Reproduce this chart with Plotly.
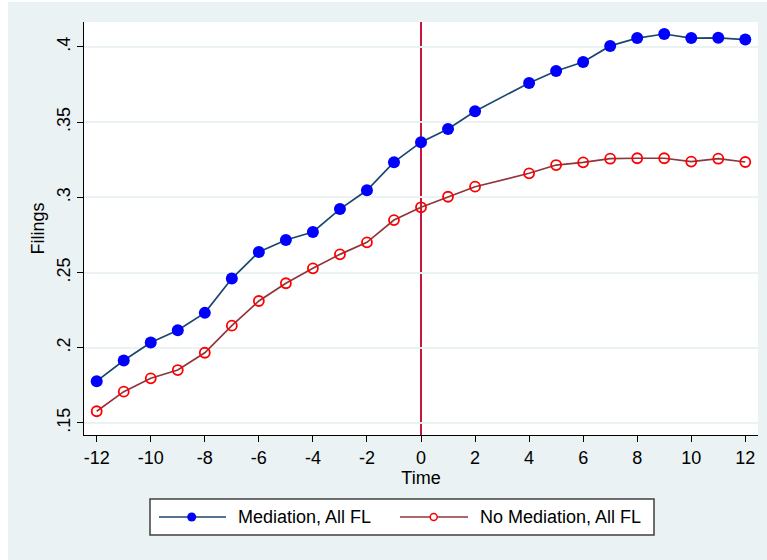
import plotly.graph_objects as go

# ---- data ----
time = [-12, -11, -10, -9, -8, -7, -6, -5, -4, -3, -2, -1, 0, 1, 2, 4, 5, 6, 7, 8, 9, 10, 11, 12]
mediation = [0.1778, 0.1915, 0.2035, 0.2116, 0.2232, 0.2460, 0.2637, 0.2717, 0.2770, 0.2922,
             0.3047, 0.3234, 0.3367, 0.3455, 0.3573, 0.3761, 0.3840, 0.3900, 0.4007, 0.4059,
             0.4086, 0.4059, 0.4061, 0.4049]
no_mediation = [0.1578, 0.1708, 0.1797, 0.1852, 0.1967, 0.2147, 0.2311, 0.2429, 0.2528, 0.2621,
                0.2701, 0.2849, 0.2934, 0.3004, 0.3071, 0.3160, 0.3215, 0.3233, 0.3257, 0.3260,
                0.3260, 0.3238, 0.3257, 0.3235]
series_names = ["Mediation, All FL", "No Mediation, All FL"]
x_ticks = [-12, -10, -8, -6, -4, -2, 0, 2, 4, 6, 8, 10, 12]
x_ticklabels = ["-12", "-10", "-8", "-6", "-4", "-2", "0", "2", "4", "6", "8", "10", "12"]
y_ticks = [0.15, 0.2, 0.25, 0.3, 0.35, 0.4]
y_ticklabels = [".15", ".2", ".25", ".3", ".35", ".4"]
event_time = 0

# ---- styling ----
W, H = 767, 560
L, R, T, B = 84, 758, 22, 435
BG = "#EAF2F3"
NAVY = "#1A476F"
MAROON = "#90353B"
FONT = "Liberation Sans, Arial, sans-serif"
FS = 18


def px(x):
    return (x - L) / (R - L)


def py(y):
    return (B - y) / (B - T)


fig = go.Figure()
fig.add_trace(go.Scatter(
    x=time, y=mediation, mode="lines+markers", name=series_names[0],
    line=dict(color=NAVY, width=1.7),
    marker=dict(symbol="circle", size=12, color="#0000FF", line=dict(width=0)),
    showlegend=False, cliponaxis=False))
fig.add_trace(go.Scatter(
    x=time, y=no_mediation, mode="lines+markers", name=series_names[1],
    line=dict(color=MAROON, width=1.7),
    marker=dict(symbol="circle-open", size=10, color="#FF0000", line=dict(width=1.8, color="#FF0000")),
    showlegend=False, cliponaxis=False))

shapes = []
# vertical event line
shapes.append(dict(type="line", xref="x", yref="paper", x0=event_time, x1=event_time, y0=0, y1=1,
                   line=dict(color="#C8173F", width=2), layer="below"))
# white strips at the top/left of the outer region
shapes.append(dict(type="rect", xref="paper", yref="paper", x0=px(0), x1=px(8), y0=py(H), y1=py(0),
                   fillcolor="white", line=dict(width=0)))
shapes.append(dict(type="rect", xref="paper", yref="paper", x0=px(0), x1=px(W), y0=py(2), y1=py(0),
                   fillcolor="white", line=dict(width=0)))
# legend box
shapes.append(dict(type="rect", xref="paper", yref="paper", x0=px(150), x1=px(654), y0=py(535), y1=py(499),
                   fillcolor="white", line=dict(color="#404040", width=1.5)))
ly = 517
shapes.append(dict(type="line", xref="paper", yref="paper", x0=px(159), x1=px(226), y0=py(ly), y1=py(ly),
                   line=dict(color=NAVY, width=1.7)))
shapes.append(dict(type="circle", xref="paper", yref="paper", x0=px(187.2), x1=px(196.2),
                   y0=py(ly + 4.5), y1=py(ly - 4.5), fillcolor="#0000FF", line=dict(width=0)))
shapes.append(dict(type="line", xref="paper", yref="paper", x0=px(400), x1=px(468), y0=py(ly), y1=py(ly),
                   line=dict(color=MAROON, width=1.7)))
shapes.append(dict(type="circle", xref="paper", yref="paper", x0=px(430.2), x1=px(437.2),
                   y0=py(ly + 3.5), y1=py(ly - 3.5), fillcolor="white", line=dict(color="#FF0000", width=1.5)))

annotations = [
    dict(xref="paper", yref="paper", x=px(236), y=py(ly), xanchor="left", yanchor="middle",
         text=series_names[0], showarrow=False, font=dict(family=FONT, size=FS, color="black")),
    dict(xref="paper", yref="paper", x=px(478), y=py(ly), xanchor="left", yanchor="middle",
         text=series_names[1], showarrow=False, font=dict(family=FONT, size=FS, color="black")),
]

fig.update_layout(
    width=W, height=H,
    margin=dict(l=L, r=W - R, t=T, b=H - B, pad=0),
    paper_bgcolor=BG, plot_bgcolor="white",
    font=dict(family=FONT, size=FS, color="black"),
    showlegend=False,
    shapes=shapes, annotations=annotations,
    xaxis=dict(
        range=[-12.47, 12.47], tickvals=x_ticks, ticktext=x_ticklabels, ticks="outside",
        ticklen=6, tickwidth=1, tickcolor="black", showline=True, linecolor="black", linewidth=1,
        showgrid=False, zeroline=False, title=dict(text="Time", standoff=4, font=dict(size=FS)),
        automargin=False, tickfont=dict(size=FS)),
    yaxis=dict(
        range=[0.142, 0.4166], tickvals=y_ticks, ticktext=y_ticklabels, tickangle=-90,
        ticks="outside", ticklen=6, tickwidth=1, tickcolor="black",
        showline=True, linecolor="black", linewidth=1, showgrid=True, gridcolor=BG, gridwidth=1.5,
        zeroline=False, title=dict(text="Filings", standoff=4, font=dict(size=FS)),
        automargin=False, tickfont=dict(size=FS)),
)

fig.write_html("out.html")
